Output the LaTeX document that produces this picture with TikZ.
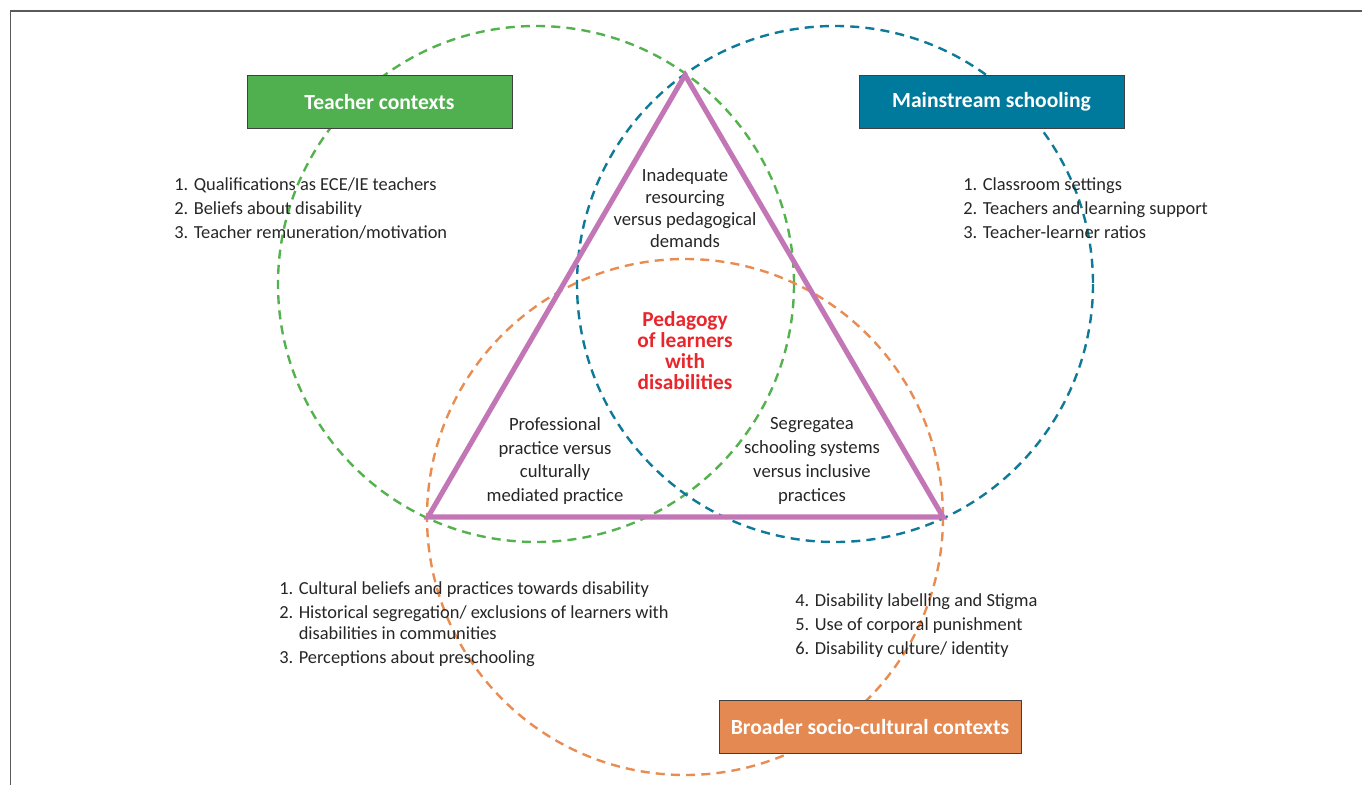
\documentclass[tikz,border=0pt]{standalone}
\usepackage{fontspec}
\setmainfont{Carlito}
\usepackage{tikz}
\usetikzlibrary{positioning}

\definecolor{ringgreen}{RGB}{84,178,78}
\definecolor{ringblue}{RGB}{14,122,152}
\definecolor{ringorange}{RGB}{232,140,82}
\definecolor{boxgreen}{RGB}{80,176,80}
\definecolor{boxblue}{RGB}{0,122,156}
\definecolor{boxorange}{RGB}{228,137,82}
\definecolor{tripurple}{RGB}{195,118,181}
\definecolor{corered}{RGB}{232,38,44}
\definecolor{txtgray}{RGB}{38,38,38}

\begin{document}
\begin{tikzpicture}[x=0.75pt,y=0.75pt,yscale=-1,xscale=1,
  ring/.style={dash pattern={on 6.8pt off 4.6pt}, line width=1.8pt},
  ctxbox/.style={draw={rgb,255:red,64;green,64;blue,64}, line width=0.75pt, text=white, font=\fontsize{16.2}{18}\selectfont\bfseries, minimum height=39.75pt, inner sep=0pt},
  itemlist/.style={anchor=north west, inner sep=0.75pt, align=left, text=txtgray, font=\fontsize{13.8}{15.75}\selectfont},
  midtext/.style={inner sep=0.75pt, align=center, text=txtgray}]
\useasboundingbox (0,0) rectangle (1362,785);

%Frame
\draw [color={rgb,255:red,90;green,90;blue,90}, line width=1.1pt] (10.5,785) -- (10.5,11) -- (1362,11) ;

%Shape: Circle (teacher)
\draw [ring, color=ringgreen] (536,284) circle [x radius= 258, y radius= 258] ;
%Shape: Circle (schooling)
\draw [ring, color=ringblue] (835,284) circle [x radius= 258, y radius= 258] ;
%Shape: Circle (socio-cultural)
\draw [ring, color=ringorange] (685,517) circle [x radius= 258, y radius= 258] ;

%Triangle
\coordinate (apex) at (685,75) ;
\coordinate (lcorner) at (428,517) ;
\coordinate (rcorner) at (943,517) ;
\draw [color=tripurple, line width=3.8pt] (apex) -- (lcorner) -- (rcorner) -- cycle ;

%Context boxes
\node [ctxbox, fill=boxgreen, minimum width=198.75pt] (teacher) at (379.5,101.5) {Teacher contexts};
\node [ctxbox, fill=boxblue, minimum width=198.75pt] (mainstream) at (991.5,101.5) {Mainstream schooling};
\node [ctxbox, fill=boxorange, minimum width=226.5pt] (broader) at (870,726.5) {Broader socio-cultural contexts};

% Text Node
\node [itemlist] (teacherlist) at (173,176) {1. Qualifications as ECE/IE teachers\\[2.25pt]2. Beliefs about disability\\[2.25pt]3. Teacher remuneration/motivation};
% Text Node
\node [itemlist] (schoollist) at (962,176) {1. Classroom settings\\[2.25pt]2. Teachers and learning support\\[2.25pt]3. Teacher-learner ratios};
% Text Node
\node [itemlist] (culturelist) at (278,580) {1. Cultural beliefs and practices towards disability\\[2.25pt]2. Historical segregation/ exclusions of learners with\\\phantom{2. }disabilities in communities\\[2.25pt]3. Perceptions about preschooling};
% Text Node
\node [itemlist] (stigmalist) at (794,592) {4. Disability labelling and Stigma\\[2.25pt]5. Use of corporal punishment\\[2.25pt]6. Disability culture/ identity};

% Text Node
\node [midtext, font=\fontsize{14}{16.3}\selectfont] (resourcing) at (685,208) {Inadequate\\resourcing\\versus pedagogical\\demands};
% Text Node
\node [midtext, font=\fontsize{16}{15.75}\selectfont\bfseries, text=corered] (core) at (685,351) {Pedagogy\\of learners\\with\\disabilities};
% Text Node
\node [midtext, font=\fontsize{14}{17.8}\selectfont] (professional) at (555,461) {Professional\\practice versus\\culturally\\mediated practice};
% Text Node
\node [midtext, font=\fontsize{14}{17.8}\selectfont] (segregated) at (812,461) {Segregatea\\schooling systems\\versus inclusive\\practices};

\end{tikzpicture}
\end{document}
